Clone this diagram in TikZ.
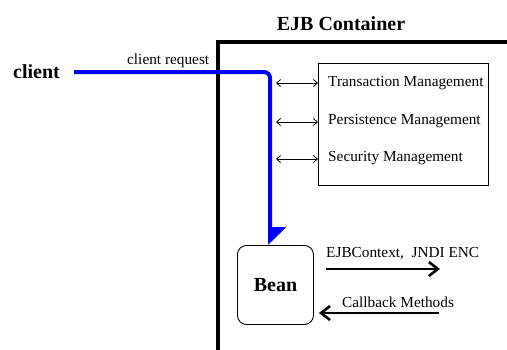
\documentclass[tikz,border=0pt]{standalone}
\usepackage{fontspec}
\setmainfont{Liberation Serif}
\usetikzlibrary{arrows.meta}
\tikzset{
  reg/.style={inner sep=0pt, font=\fontsize{15.3}{18}\selectfont},
  big/.style={inner sep=0pt, font=\fontsize{20}{24}\selectfont\bfseries},
  smallarr/.style={line width=0.8pt, {Straight Barb[length=4pt,width=7pt]}-{Straight Barb[length=4pt,width=7pt]}},
  thickarr/.style={line width=2.6pt, -{Straight Barb[length=9pt,width=14pt,line width=2.6pt]}},
  container/.style={line width=4.5pt},
  request/.style={blue, line width=4pt, rounded corners=6pt, -{Triangle[left,length=16pt,width=32pt]}},
}
\begin{document}
\begin{tikzpicture}[x=1pt,y=-1pt]
\useasboundingbox (0,0) rectangle (507,349);
\begin{scope}
\clip (0,0) rectangle (507,349);
% container border
\draw[container] (218,360) -- (218,42) -- (520,42);
\end{scope}
\node[big] (cont) at (341,24) {EJB Container};
\node[big] (client) at (36.5,72) {client};
\node[reg, anchor=west] (req) at (127,61) {client request};
% management box
\node[draw, line width=0.9pt, minimum width=170pt, minimum height=122pt, inner sep=0pt, anchor=north west] (mgmt) at (318,63) {};
\node[reg, anchor=west] (t1) at (328,83) {Transaction Management};
\node[reg, anchor=west] (t2) at (328,121) {Persistence Management};
\node[reg, anchor=west] (t3) at (328,158) {Security Management};
\coordinate (a1) at (276,83);
\coordinate (a2) at (276,122);
\coordinate (a3) at (276,159);
\draw[smallarr] (a1) -- (mgmt.west |- a1);
\draw[smallarr] (a2) -- (mgmt.west |- a2);
\draw[smallarr] (a3) -- (mgmt.west |- a3);
% bean
\node[draw, line width=0.9pt, rounded corners=9pt, minimum width=76pt, minimum height=79pt, inner sep=0pt, anchor=north west] (bean) at (237,245) {};
\node[big] (beantext) at (bean.center) {Bean};
% request path
\coordinate (bend) at (270,72);
\draw[request, shorten <=14pt] (client.east) -- (bend) -- (bend |- bean.north);
% EJBContext
\coordinate (ejbEnd) at (440,269);
\draw[thickarr, shorten <=12pt] (bean.east |- ejbEnd) -- (ejbEnd);
\node[reg, anchor=west] (ejbl) at (326,254) {EJBContext,\ \ JNDI ENC};
% callback
\coordinate (cbStart) at (439,313);
\draw[thickarr, shorten >=5pt] (cbStart) -- (bean.east |- cbStart);
\node[reg, anchor=west] (cbl) at (342,302) {Callback Methods};
\end{tikzpicture}
\end{document}
